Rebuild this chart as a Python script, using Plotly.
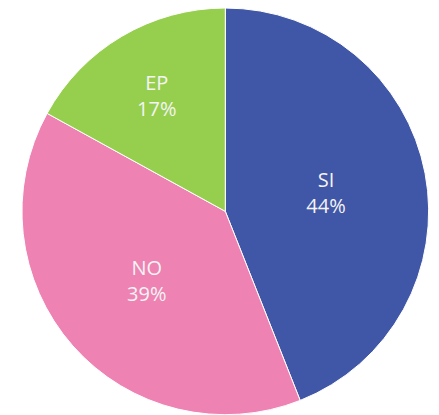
import plotly.graph_objects as go

labels = ["SI", "NO", "EP"]
values = [44, 39, 17]
colors = ["#4056A6", "#EE82B3", "#96CF4E"]

fig = go.Figure(go.Pie(
    labels=labels,
    values=values,
    sort=False,
    direction="clockwise",
    rotation=0,
    marker=dict(colors=colors, line=dict(color="white", width=1)),
    texttemplate="%{label}<br>%{percent:.0%}",
    textposition="inside",
    insidetextorientation="horizontal",
    textfont=dict(family="Open Sans", size=20, color="#F4F4F4"),
    hoverinfo="label+percent",
    domain=dict(x=[0.005, 0.985], y=[0.02, 1]),
    showlegend=False,
))
fig.update_layout(
    width=439, height=415,
    margin=dict(l=0, r=0, t=0, b=0, autoexpand=False),
    paper_bgcolor="white",
    plot_bgcolor="white",
)
fig.write_html("out.html")
